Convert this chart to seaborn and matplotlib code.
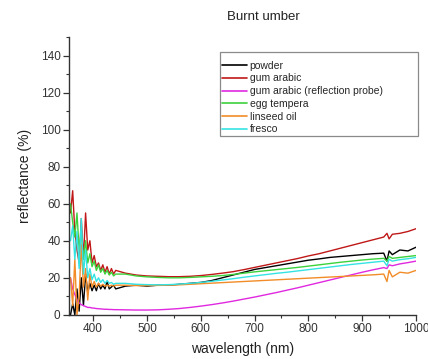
import matplotlib
matplotlib.use("Agg")
import matplotlib.pyplot as plt
from matplotlib.ticker import MultipleLocator
from matplotlib.lines import Line2D
import seaborn as sns
import pandas as pd

# Wavelength grids (nm): dense near the noisy UV start, coarser afterwards
wl_start = [358, 362, 366, 370, 374, 378, 382, 386, 390, 394, 398,
            402, 406, 410, 414, 418, 422, 426, 430, 434, 438, 442]
wl_tail = [460, 480, 500, 520, 540, 560, 580, 600, 620, 640, 660, 680,
           700, 720, 740, 760, 780, 800, 820, 840, 860, 880, 900, 920,
           940, 946, 950, 956, 970, 985, 1000]

labels = ["powder", "gum arabic", "gum arabic (reflection probe)",
          "egg tempera", "linseed oil", "fresco"]
colors = ["#000000", "#c01818", "#e028e0", "#3cd23c", "#f28c28", "#35e3e3"]

# Reflectance (%) per sample
powder = [0, 6, 0, 14, 2, 20, 5, 22, 12, 17, 13, 16, 13, 17, 14, 16, 14, 18, 14, 15, 16, 14,
          15.5, 16, 15.5, 16, 16, 16.5, 17, 17.5, 18.5, 20, 21.5, 23, 24.5, 25.5, 26.5, 27.5,
          28.5, 29.5, 30.2, 31, 31.5, 32, 32.5, 33, 33.3, 29, 34.5, 32.5, 35, 34.5, 36.5]
gum_arabic = [55, 67, 45, 35, 28, 52, 30, 55, 35, 40, 28, 32, 26, 28, 24, 27, 23, 26, 22, 25, 22, 24,
              22.5, 21.5, 21, 20.8, 20.6, 20.6, 20.8, 21.2, 21.8, 22.5, 23.3, 24.4, 25.6, 26.8, 28,
              29.2, 30.4, 31.8, 33, 34.5, 36, 37.5, 39, 40.5, 42, 44, 41, 43.5, 44, 45, 46.5]
gum_arabic_probe = [20, 14, 11, 8, 6.5, 5.5, 5, 4.5, 4, 4, 3.7, 3.6, 3.4, 3.3, 3.2, 3.1, 3.0, 3.0,
                    2.9, 2.9, 2.8, 2.8,
                    2.7, 2.6, 2.6, 2.7, 3.0, 3.4, 4.0, 4.7, 5.5, 6.4, 7.4, 8.5, 9.6, 10.8, 12, 13.3,
                    14.6, 16, 17.4, 18.8, 20.2, 21.6, 23, 24.3, 25.5, 25, 27, 26.5, 27.5, 28.2, 29]
egg_tempera = [60, 50, 42, 55, 35, 45, 30, 40, 28, 33, 26, 29, 24, 27, 23, 25, 22, 24, 21.5, 23, 21, 22,
               22, 21, 20.5, 20.2, 20, 20, 20.2, 20.5, 20.8, 21.2, 21.8, 22.5, 23.2, 23.8, 24.4, 25,
               25.6, 26.3, 27, 27.7, 28.4, 29, 29.6, 30.1, 30.5, 29, 31.5, 30.5, 31, 31.5, 32]
linseed_oil = [20, 5, 30, 0, 10, 38, 15, 25, 8, 22, 15, 18, 15, 17, 15.5, 16.5, 15.5, 16, 15.5, 16,
               15.5, 16,
               16, 15.8, 15.8, 15.9, 16, 16.2, 16.5, 16.8, 17.1, 17.4, 17.7, 18, 18.3, 18.6, 18.9,
               19.2, 19.5, 19.8, 20.1, 20.4, 20.7, 21, 21.3, 21.6, 22, 18, 24, 20.5, 23, 22.5, 24]
fresco = [40, 48, 30, 45, 25, 52, 22, 35, 20, 25, 19, 22, 18, 20, 17.5, 19, 17, 18.5, 17, 17.5, 16.5, 17,
          17, 16.5, 16.3, 16.2, 16.3, 16.6, 17, 17.5, 18.1, 18.8, 19.5, 20.3, 21, 21.7, 22.4, 23,
          23.7, 24.4, 25.1, 25.8, 26.5, 27.2, 27.8, 28.4, 29, 26.5, 30, 29, 29.8, 30.3, 31]

series = [powder, gum_arabic, gum_arabic_probe, egg_tempera, linseed_oil, fresco]
wavelength = wl_start + wl_tail

frames = [pd.DataFrame({"wavelength": wavelength, "reflectance": vals, "sample": name})
          for name, vals in zip(labels, series)]
df = pd.concat(frames, ignore_index=True)

sns.set_style("ticks")
plt.rcParams["font.family"] = ["Liberation Sans", "DejaVu Sans"]

fig = plt.figure(figsize=(4.28, 3.59), dpi=100)
ax = fig.add_axes([0.161, 0.123, 0.811, 0.774])

sns.lineplot(data=df, x="wavelength", y="reflectance", hue="sample",
             palette=dict(zip(labels, colors)), estimator=None, sort=False,
             linewidth=1.0, legend=False, ax=ax)

ax.set_xlim(355, 1000)
ax.set_ylim(0, 150)
ax.xaxis.set_major_locator(MultipleLocator(100))
ax.xaxis.set_minor_locator(MultipleLocator(50))
ax.yaxis.set_major_locator(MultipleLocator(20))
ax.yaxis.set_minor_locator(MultipleLocator(10))
ax.set_xticks([400, 500, 600, 700, 800, 900, 1000])
ax.tick_params(axis="both", which="major", length=4, width=0.9, labelsize=8.5,
               colors="#333333", labelcolor="#333333", pad=2)
ax.tick_params(axis="both", which="minor", length=2.5, width=0.8, colors="#333333")
for side in ("top", "right"):
    ax.spines[side].set_visible(False)
for side in ("left", "bottom"):
    ax.spines[side].set_color("#333333")
    ax.spines[side].set_linewidth(1.0)

ax.set_xlabel("wavelength (nm)", fontsize=10, color="#222222", labelpad=5)
ax.set_ylabel("reflectance (%)", fontsize=10, color="#222222", labelpad=6)
fig.text(263 / 428, 1 - 17 / 359, "Burnt umber", ha="center", va="center",
         fontsize=9.5, color="#222222")

handles = [Line2D([0], [0], color=c, lw=1.2) for c in colors]
leg = ax.legend(handles, labels, loc="upper left",
                bbox_to_anchor=(0.435, 0.662, 0.571, 0.284), mode="expand",
                borderaxespad=0, fontsize=7.5, labelspacing=0.26, handlelength=2.4,
                handletextpad=0.25, borderpad=0.2, fancybox=False, framealpha=1,
                edgecolor="#8a8a8a", title=" ", title_fontsize=2.5)
leg.get_frame().set_linewidth(0.9)
leg.set_clip_on(False)

fig.savefig("out.png", dpi=100)
